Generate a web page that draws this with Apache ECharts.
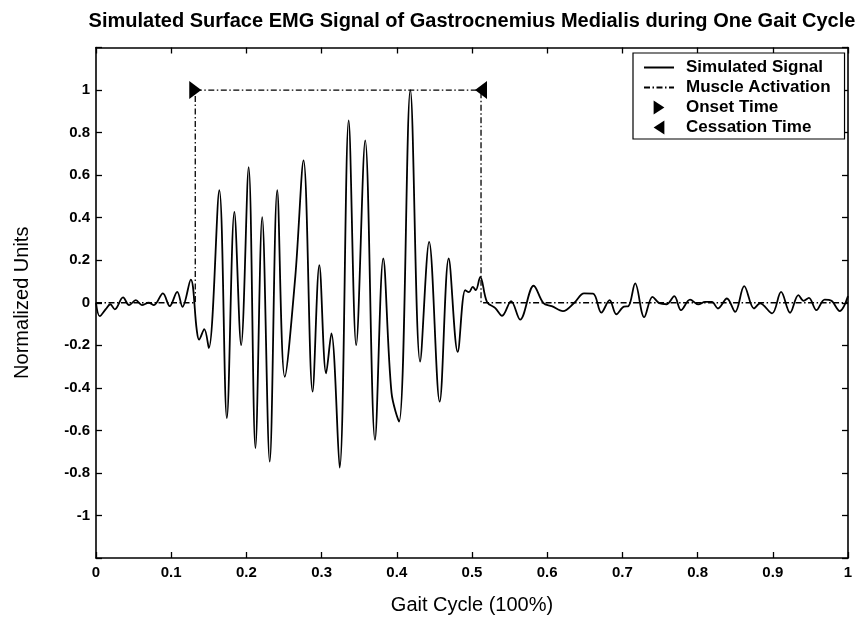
<!DOCTYPE html>
<html>
<head>
<meta charset="utf-8">
<script src="https://cdn.jsdelivr.net/npm/echarts@6/dist/echarts.min.js"></script>
<style>
  html, body { margin: 0; padding: 0; background: #ffffff; }
  #chart { width: 859px; height: 618px; }
</style>
</head>
<body>
<div id="chart"></div>
<script>
// Gait cycle position (fraction of the cycle) of each sample
const gaitPct = [
  0.000, 0.005, 0.013, 0.019, 0.025, 0.036, 0.044, 0.053, 0.061, 0.070,
  0.077, 0.089, 0.098, 0.108, 0.115, 0.126, 0.134, 0.137, 0.144, 0.150,
  0.164, 0.174, 0.184, 0.193, 0.203, 0.212, 0.221, 0.231, 0.241, 0.251,
  0.265, 0.276, 0.288, 0.297, 0.306, 0.313, 0.324, 0.336, 0.346, 0.358,
  0.371, 0.382, 0.393, 0.403, 0.418, 0.431, 0.443, 0.457, 0.469, 0.481,
  0.491, 0.496, 0.501, 0.505, 0.511, 0.520, 0.531, 0.540, 0.552, 0.564,
  0.582, 0.595, 0.606, 0.621, 0.636, 0.649, 0.661, 0.672, 0.683, 0.692,
  0.702, 0.708, 0.717, 0.729, 0.740, 0.749, 0.759, 0.769, 0.778, 0.790,
  0.801, 0.810, 0.819, 0.827, 0.839, 0.850, 0.862, 0.875, 0.883, 0.899,
  0.911, 0.923, 0.934, 0.941, 0.948, 0.958, 0.969, 0.978, 0.989, 1.000
];

// Simulated sEMG amplitude (normalized units) at each sample
const emgSignal = [
  0.000, -0.063, -0.030, -0.007, -0.031, 0.025, -0.011, 0.012, -0.011, 0.000,
  -0.011, 0.044, -0.016, 0.051, -0.019, 0.109, -0.129, -0.173, -0.124, -0.213,
  0.529, -0.542, 0.427, -0.199, 0.638, -0.683, 0.403, -0.747, 0.529, -0.348,
  0.122, 0.669, -0.418, 0.177, -0.332, -0.144, -0.775, 0.857, -0.199, 0.763,
  -0.645, 0.208, -0.424, -0.559, 1.000, -0.277, 0.286, -0.465, 0.208, -0.231,
  0.059, 0.050, 0.075, 0.059, 0.122, 0.003, -0.025, -0.061, 0.008, -0.079,
  0.080, -0.002, -0.016, -0.039, 0.000, 0.044, 0.043, -0.046, 0.012, -0.054,
  -0.018, -0.016, 0.091, -0.068, 0.028, -0.002, -0.007, 0.031, -0.035, 0.015,
  -0.008, 0.004, 0.004, -0.027, 0.020, -0.043, 0.078, -0.027, -0.003, -0.050,
  0.051, -0.047, 0.036, 0.009, 0.023, -0.035, 0.015, 0.009, -0.039, 0.031
];

// Activation window (on/off) and its level
const onsetTime = 0.132;
const cessationTime = 0.512;
const activeLevel = 1;
const restLevel = 0;

// Tick labels shown on each axis
const xTickLabels = [0, 0.1, 0.2, 0.3, 0.4, 0.5, 0.6, 0.7, 0.8, 0.9, 1];
const yTickLabels = [-1, -0.8, -0.6, -0.4, -0.2, 0, 0.2, 0.4, 0.6, 0.8, 1];

const FONT = '"Liberation Sans", Arial, sans-serif';
const INK = '#000000';

const signalData = gaitPct.map((x, i) => [x, emgSignal[i]]);
const activationData = [
  [0, restLevel], [onsetTime, restLevel], [onsetTime, activeLevel],
  [cessationTime, activeLevel], [cessationTime, restLevel], [1, restLevel]
];

const hasLabel = (list, v) => list.some(t => Math.abs(t - v) < 1e-6);
const fmt = v => String(Math.round(v * 10) / 10);

// Triangle markers: pointing right for onset, left for cessation
const triRight = 'path://M0,0L8,6L0,12Z';
const triLeft = 'path://M8,0L0,6L8,12Z';
const legendTriRight = 'path://M0,0L10,6.5L0,13Z';
const legendTriLeft = 'path://M10,0L0,6.5L10,13Z';

const frameAxis = {
  axisLine: { show: true, onZero: false, lineStyle: { color: INK, width: 1.6 } },
  axisTick: { show: true, inside: true, length: 6, lineStyle: { color: INK, width: 1.3 } },
  splitLine: { show: false }
};

const chart = echarts.init(document.getElementById('chart'), null, { renderer: 'canvas' });

chart.setOption({
  backgroundColor: '#ffffff',
  animation: false,
  title: {
    text: 'Simulated Surface EMG Signal of Gastrocnemius Medialis during One Gait Cycle',
    left: 467,
    textAlign: 'center',
    top: 6,
    textStyle: { fontFamily: FONT, fontSize: 20, fontWeight: 'bold', color: INK }
  },
  grid: {
    left: 96, right: 11, top: 47.5, bottom: 60,
    containLabel: false,
    outerBoundsMode: 'none'
  },
  legend: {
    orient: 'vertical',
    left: 633,
    top: 53,
    padding: [6, 14, 3, 10],
    itemWidth: 30,
    itemHeight: 14,
    itemGap: 3,
    backgroundColor: '#ffffff',
    borderColor: INK,
    borderWidth: 1.2,
    borderRadius: 0,
    selectedMode: false,
    textStyle: {
      fontFamily: FONT, fontSize: 17, fontWeight: 'bold', color: INK,
      lineHeight: 14, padding: [0, 0, 0, 7]
    },
    data: [
      { name: 'Simulated Signal', itemStyle: { opacity: 0 } },
      { name: 'Muscle Activation', itemStyle: { opacity: 0 } },
      { name: 'Onset Time', icon: legendTriRight, itemStyle: { color: INK, opacity: 1 } },
      { name: 'Cessation Time', icon: legendTriLeft, itemStyle: { color: INK, opacity: 1 } }
    ]
  },
  xAxis: [
    Object.assign({
      type: 'value', min: 0, max: 1, interval: 0.1, position: 'bottom',
      name: 'Gait Cycle (100%)', nameLocation: 'middle', nameGap: 37,
      nameTextStyle: { fontFamily: FONT, fontSize: 20, color: INK },
      axisLabel: {
        margin: 7, fontFamily: FONT, fontSize: 15, fontWeight: 'bold', color: INK,
        formatter: v => hasLabel(xTickLabels, v) ? fmt(v) : ''
      }
    }, frameAxis),
    Object.assign({
      type: 'value', min: 0, max: 1, interval: 0.1, position: 'top',
      axisLabel: { show: false }
    }, frameAxis)
  ],
  yAxis: [
    Object.assign({
      type: 'value', min: -1.2, max: 1.2, interval: 0.2, position: 'left',
      name: 'Normalized Units', nameLocation: 'middle', nameGap: 64, nameRotate: 90,
      nameTextStyle: { fontFamily: FONT, fontSize: 20, color: INK },
      axisLabel: {
        margin: 6, fontFamily: FONT, fontSize: 15, fontWeight: 'bold', color: INK,
        formatter: v => hasLabel(yTickLabels, v) ? fmt(v) : ''
      }
    }, frameAxis),
    Object.assign({
      type: 'value', min: -1.2, max: 1.2, interval: 0.2, position: 'right',
      axisLabel: { show: false }
    }, frameAxis)
  ],
  series: [
    {
      name: 'Simulated Signal',
      type: 'line',
      data: signalData,
      smooth: 0.35,
      symbol: 'none',
      lineStyle: { color: INK, width: 1.8 },
      itemStyle: { color: INK },
      z: 2
    },
    {
      name: 'Muscle Activation',
      type: 'line',
      data: activationData,
      symbol: 'none',
      lineStyle: { color: INK, width: 1.3, type: [6, 2.5, 1.5, 2.5] },
      itemStyle: { color: INK },
      z: 3
    },
    {
      name: 'Onset Time',
      type: 'scatter',
      data: [[onsetTime, activeLevel]],
      symbol: triRight,
      symbolSize: [12, 18],
      itemStyle: { color: INK, opacity: 1 },
      z: 4
    },
    {
      name: 'Cessation Time',
      type: 'scatter',
      data: [[cessationTime, activeLevel]],
      symbol: triLeft,
      symbolSize: [12, 18],
      itemStyle: { color: INK, opacity: 1 },
      z: 4
    }
  ]
});
</script>
</body>
</html>
